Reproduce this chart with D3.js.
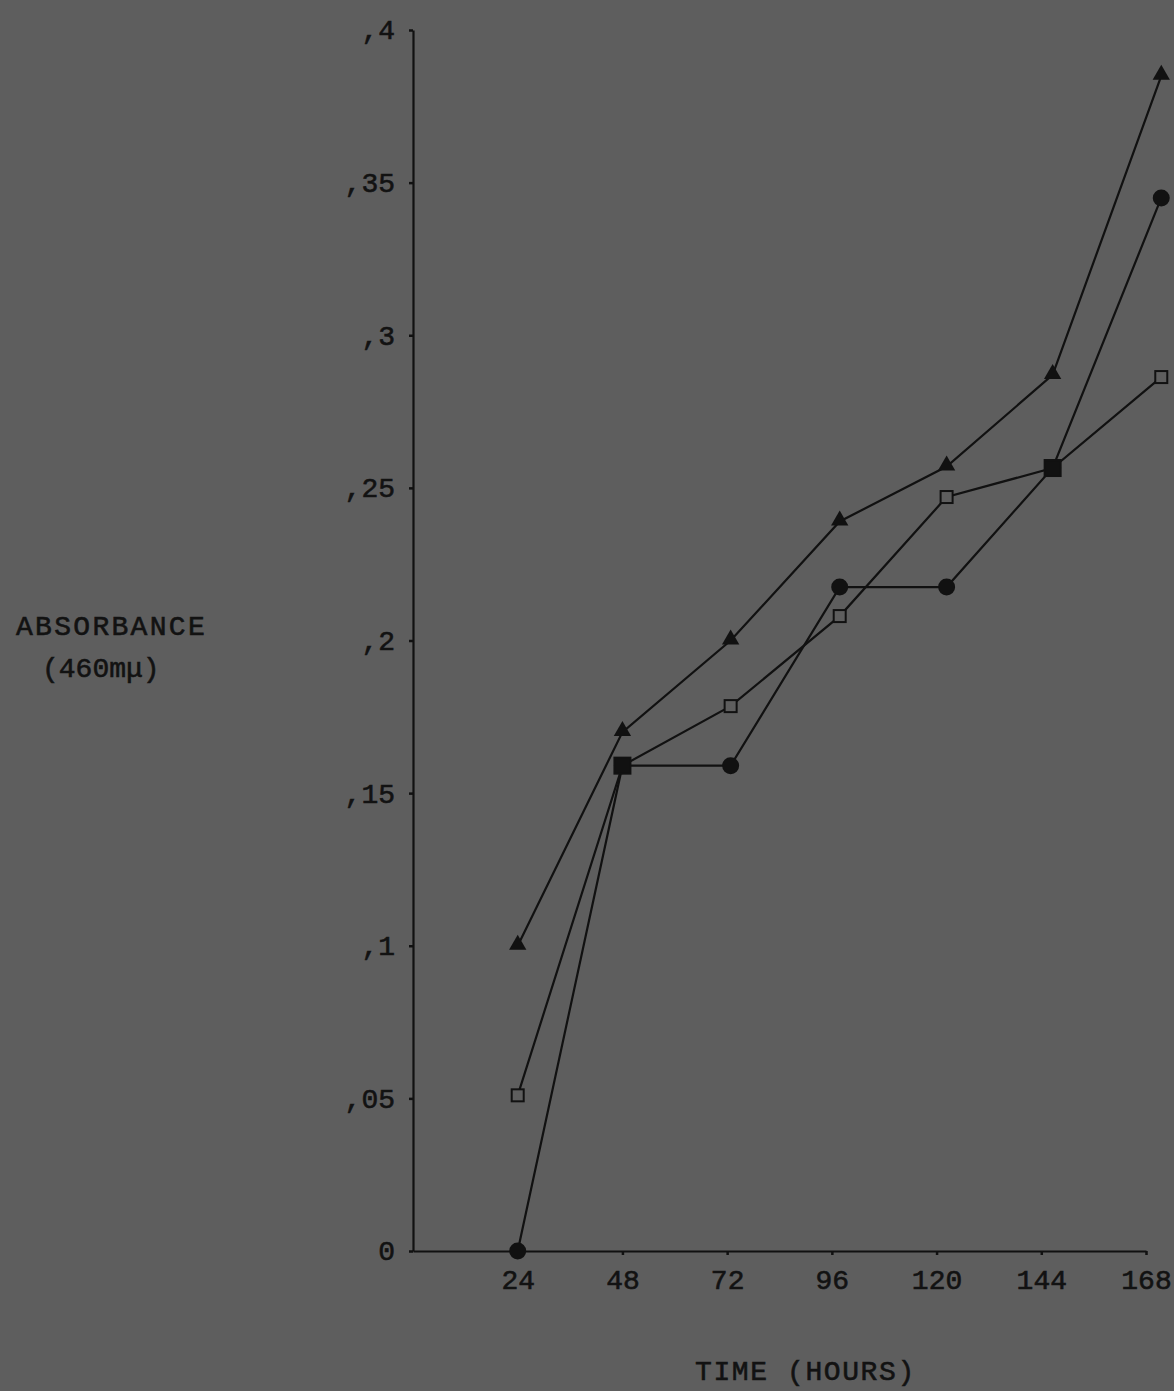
<!DOCTYPE html>
<html>
<head>
<meta charset="utf-8">
<script src="https://d3js.org/d3.v7.min.js"></script>
<style>
  html, body { margin: 0; padding: 0; background: #5e5e5e; }
  svg { display: block; }
  text { font-family: "Liberation Mono", "DejaVu Sans Mono", monospace; fill: #121212; stroke: #121212; stroke-width: 0.6px; }
</style>
</head>
<body>
<svg id="chart" width="1174" height="1391"></svg>
<script>
// ---- data ----
const hours = [24, 48, 72, 96, 120, 144, 168];               // x tick values
const hourLabels = ["24", "48", "72", "96", "120", "144", "168"];
// hand-plotted positions of the points along the time axis (as drawn)
const plottedHours = [24, 48, 72.8, 97.8, 122.3, 146.6, 171.5];
const yTicks = [0, 0.05, 0.1, 0.15, 0.2, 0.25, 0.3, 0.35, 0.4];
const yTickLabels = ["0", ",05", ",1", ",15", ",2", ",25", ",3", ",35", ",4"];
const triangleSeries = [0.10, 0.17, 0.20, 0.239, 0.257, 0.287, 0.385];
const circleSeries   = [0.0, 0.159, 0.159, 0.2175, 0.2175, 0.2565, 0.345];
const squareSeries   = [0.051, 0.159, 0.1785, 0.208, 0.247, 0.2565, 0.2863];
const yTitle = ["ABSORBANCE", "(460mμ)"];
const xTitle = "TIME (HOURS)";

// ---- layout ----
const svg = d3.select("#chart");
const ink = "#111";
const x = d3.scaleLinear().domain([0, 168]).range([413, 1146]);
const y = d3.scaleLinear().domain([0, 0.4]).range([1251, 30]);

// axes
const gx = svg.append("g").attr("transform", `translate(0,${y(0)})`)
  .call(d3.axisBottom(x).tickValues(hours).tickFormat((d, i) => hourLabels[i])
        .tickSize(4).tickSizeOuter(0).tickPadding(14));
const gy = svg.append("g").attr("transform", `translate(${x(0)},0)`)
  .call(d3.axisLeft(y).tickValues(yTicks).tickFormat((d, i) => yTickLabels[i])
        .tickSize(4).tickSizeOuter(0).tickPadding(14));
[gx, gy].forEach(g => {
  g.select(".domain").attr("stroke", ink).attr("stroke-width", 2.2);
  g.selectAll(".tick line").attr("stroke", ink).attr("stroke-width", 2.5);
  g.selectAll(".tick text").style("font-family", "Liberation Mono, monospace")
    .attr("font-size", 28).attr("fill", "#121212");
});
gy.selectAll(".tick text").attr("dy", "0.32em");
gx.selectAll(".tick text").attr("dy", "0.71em");

// titles
const yt = svg.append("g");
yt.append("text").attr("x", 16).attr("y", 635).attr("font-size", 28)
  .attr("letter-spacing", 2.3).text(yTitle[0]);
yt.append("text").attr("x", 42).attr("y", 677).attr("font-size", 28)
  .text(yTitle[1]);
svg.append("text").attr("x", 695).attr("y", 1380).attr("font-size", 28)
  .attr("letter-spacing", 1.6).text(xTitle);

// lines
const line = d3.line().x((d, i) => x(plottedHours[i])).y(d => y(d));
[triangleSeries, circleSeries, squareSeries].forEach(s => {
  svg.append("path").datum(s).attr("d", line)
    .attr("fill", "none").attr("stroke", ink).attr("stroke-width", 2.2);
});

// markers
const tri = d3.symbol().type(d3.symbolTriangle).size(130);
svg.append("g").selectAll("path").data(triangleSeries).join("path")
  .attr("d", tri)
  .attr("transform", (d, i) => `translate(${x(plottedHours[i])},${y(d) - 1})`)
  .attr("fill", ink);

svg.append("g").selectAll("circle").data(circleSeries).join("circle")
  .attr("cx", (d, i) => x(plottedHours[i])).attr("cy", d => y(d))
  .attr("r", 8.5).attr("fill", ink);

// squares: open, but appear filled where they coincide with a circle point
svg.append("g").selectAll("rect").data(squareSeries).join("rect")
  .each(function (d, i) {
    const filled = Math.abs(d - circleSeries[i]) < 0.002;
    const s = filled ? 16 : 12;
    d3.select(this)
      .attr("x", x(plottedHours[i]) - s / 2).attr("y", y(d) - s / 2)
      .attr("width", s).attr("height", s)
      .attr("fill", filled ? ink : "#5e5e5e")
      .attr("stroke", ink).attr("stroke-width", 2);
  });
</script>
</body>
</html>
